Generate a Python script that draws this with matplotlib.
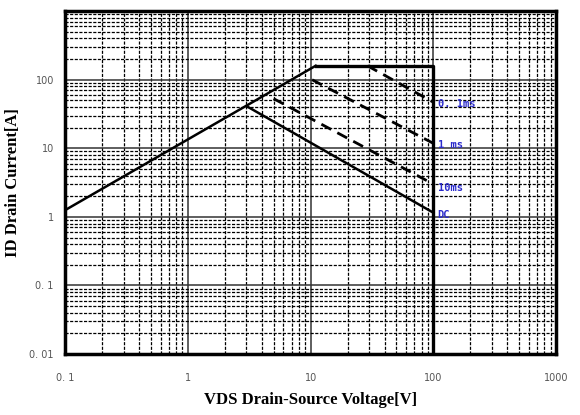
import numpy as np
import matplotlib
matplotlib.use("Agg")
import matplotlib.pyplot as plt
from matplotlib.ticker import LogLocator, FixedLocator, NullFormatter

# Safe operating area
rds_v = [0.1, 11]
rds_i = [1.25, 160]
top_v = [11, 100, 100]
top_i = [160, 160, 0.01]
dc_v = [3.1, 100]
dc_i = [40, 1.15]
pulse_v = [[29, 100], [10.3, 100], [5.0, 100]]
pulse_i = [[160, 47], [100, 11.8], [53, 3.0]]
label_i = [44, 11, 2.6, 1.05]
label_txt = ["0. 1ms", "1 ms", "10ms", "DC"]

x_ticks = [0.1, 1, 10, 100, 1000]
x_ticklabels = ["0. 1", "1", "10", "100", "1000"]
y_ticks = [0.01, 0.1, 1, 10, 100]
y_ticklabels = ["0. 01", "0. 1", "1", "10", "100"]

fig = plt.figure(figsize=(5.8, 4.15), dpi=100)
ax = fig.add_axes([0.112, 0.147, 0.847, 0.826])
ax.set_xscale("log")
ax.set_yscale("log")
ax.set_xlim(0.1, 1000)
ax.set_ylim(0.01, 1000)

# grid: solid decades, dashed in between
ax.xaxis.set_minor_locator(LogLocator(base=10, subs=np.arange(2, 10)))
ax.yaxis.set_minor_locator(LogLocator(base=10, subs=np.arange(2, 10)))
ax.xaxis.set_minor_formatter(NullFormatter())
ax.yaxis.set_minor_formatter(NullFormatter())
ax.grid(True, which="major", color="#333333", linestyle="-", linewidth=1.1)
ax.grid(True, which="minor", color="black", linestyle=(0, (2.5, 1.2)), linewidth=0.9)
ax.set_axisbelow(True)

ax.xaxis.set_major_locator(FixedLocator(x_ticks))
ax.yaxis.set_major_locator(FixedLocator(y_ticks))
ax.set_xticklabels(x_ticklabels)
ax.set_yticklabels(y_ticklabels)
ax.tick_params(which="both", length=0)
ax.tick_params(axis="x", pad=14, labelsize=7, labelcolor="#555555")
ax.tick_params(axis="y", pad=8, labelsize=7, labelcolor="#555555")

for s in ax.spines.values():
    s.set_linewidth(2.5)
    s.set_color("black")

# limit lines
ax.plot(rds_v, rds_i, color="black", linewidth=1.8)
ax.plot(top_v, top_i, color="black", linewidth=2.4)
ax.plot(dc_v, dc_i, color="black", linewidth=1.8)
for v, i in zip(pulse_v, pulse_i):
    ax.plot(v, i, color="black", linewidth=2.0, linestyle=(0, (4, 2.5)))

for txt, i in zip(label_txt, label_i):
    ax.text(108, i, txt, color="#2a2acc", fontsize=7.5, fontweight="bold",
            family="DejaVu Sans Mono", va="center", ha="left")

ax.set_xlabel("VDS Drain-Source Voltage[V]", family="Liberation Serif",
              fontweight="bold", fontsize=12, labelpad=6)
ax.set_ylabel("ID Drain Current[A]", family="Liberation Serif",
              fontweight="bold", fontsize=12, labelpad=6)

fig.savefig("out.png", dpi=100)
